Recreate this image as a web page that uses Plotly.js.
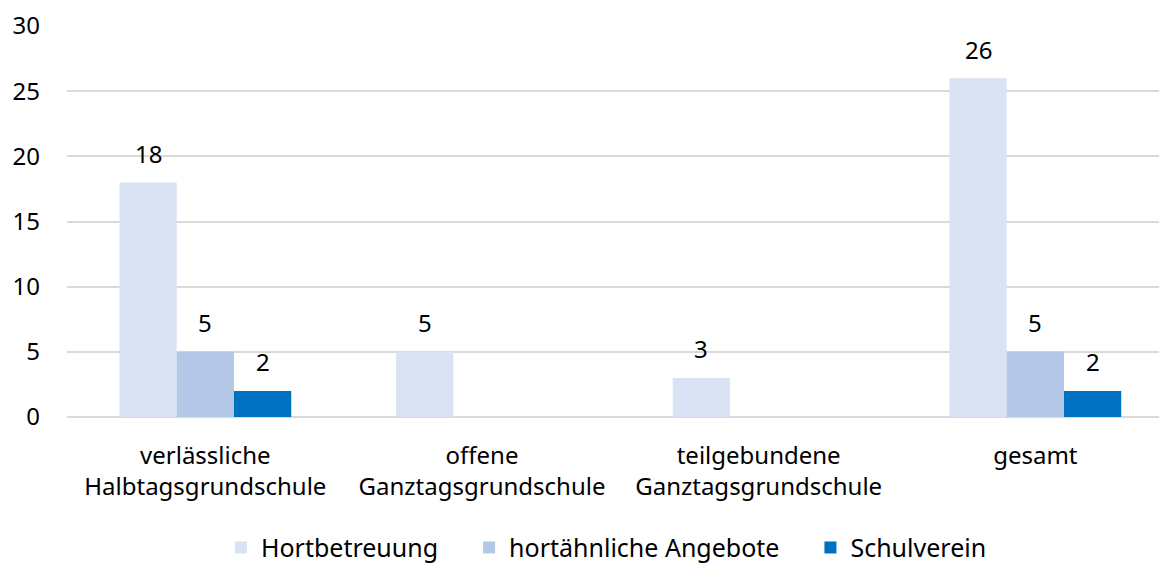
<!DOCTYPE html>
<html>
<head>
<meta charset="utf-8">
<script src="https://cdn.plot.ly/plotly-3.0.1.min.js"></script>
<style>html,body{margin:0;padding:0;background:#fff;}#chart{width:1159px;height:563px;}</style>
</head>
<body>
<div id="chart"></div>
<script>
const categories = ["verlässliche<br>Halbtagsgrundschule", "offene<br>Ganztagsgrundschule", "teilgebundene<br>Ganztagsgrundschule", "gesamt"];
const seriesNames = ["Hortbetreuung", "hortähnliche Angebote", "Schulverein"];
const hortbetreuung = [18, 5, 3, 26];
const hortaehnlich = [5, 0, 0, 5];
const schulverein = [2, 0, 0, 2];
const yTicks = [0, 5, 10, 15, 20, 25, 30];

const colors = ["#DAE3F3", "#B4C7E7", "#0070C0"];
const allSeries = [hortbetreuung, hortaehnlich, schulverein];
const FONT = "Noto Sans, Open Sans, sans-serif";
const FS = 24;

const legendPad = "\u00a0\u00a0\u00a0\u00a0";
const traces = allSeries.map((vals, i) => ({
  type: "bar",
  name: seriesNames[i] + (i < allSeries.length - 1 ? legendPad : ""),
  x: categories,
  y: vals,
  marker: {color: colors[i]},
  hoverinfo: "none"
}));

const plotLeft = 67, plotRight = 1159;
const xRange = [-0.5, 3.447];
const bargap = 0.379;
const pxPerCat = (plotRight - plotLeft) / (xRange[1] - xRange[0]);
const barPx = pxPerCat * (1 - bargap) / 3;

const annotations = [];
allSeries.forEach((vals, i) => {
  vals.forEach((v, j) => {
    if (v > 0) {
      annotations.push({
        x: categories[j], y: v, xref: "x", yref: "y",
        text: String(v), showarrow: false,
        xshift: (i - 1) * barPx, yshift: 29,
        yanchor: "middle", xanchor: "center",
        font: {family: FONT, size: FS, color: "#000"}
      });
    }
  });
});

const layout = {
  width: 1159, height: 563,
  margin: {l: plotLeft, r: 1159 - plotRight, t: 26, b: 146, autoexpand: false},
  paper_bgcolor: "#fff", plot_bgcolor: "#fff",
  barmode: "group",
  bargap: bargap,
  bargroupgap: 0,
  font: {family: FONT, size: FS, color: "#000"},
  xaxis: {
    type: "category",
    range: xRange,
    showgrid: false, zeroline: false, showline: false,
    ticks: "",
    ticklabelstandoff: 22,
    tickfont: {family: FONT, size: FS, color: "#000"}
  },
  yaxis: {
    range: [0, 30],
    tickvals: yTicks,
    ticktext: yTicks.map(String),
    showgrid: true, gridcolor: "#D9D9D9", gridwidth: 2,
    zeroline: true, zerolinecolor: "#D9D9D9", zerolinewidth: 2,
    showline: false, ticks: "",
    ticklabelstandoff: 26,
    tickfont: {family: FONT, size: FS, color: "#000"}
  },
  showlegend: true,
  legend: {
    orientation: "h",
    x: 0.494, xanchor: "center",
    yref: "container",
    y: 0.027, yanchor: "middle",
    font: {family: FONT, size: 25, color: "#000"},
    bgcolor: "rgba(0,0,0,0)"
  },
  annotations: annotations
};

Plotly.newPlot("chart", traces, layout, {displayModeBar: false, staticPlot: true});
</script>
</body>
</html>
